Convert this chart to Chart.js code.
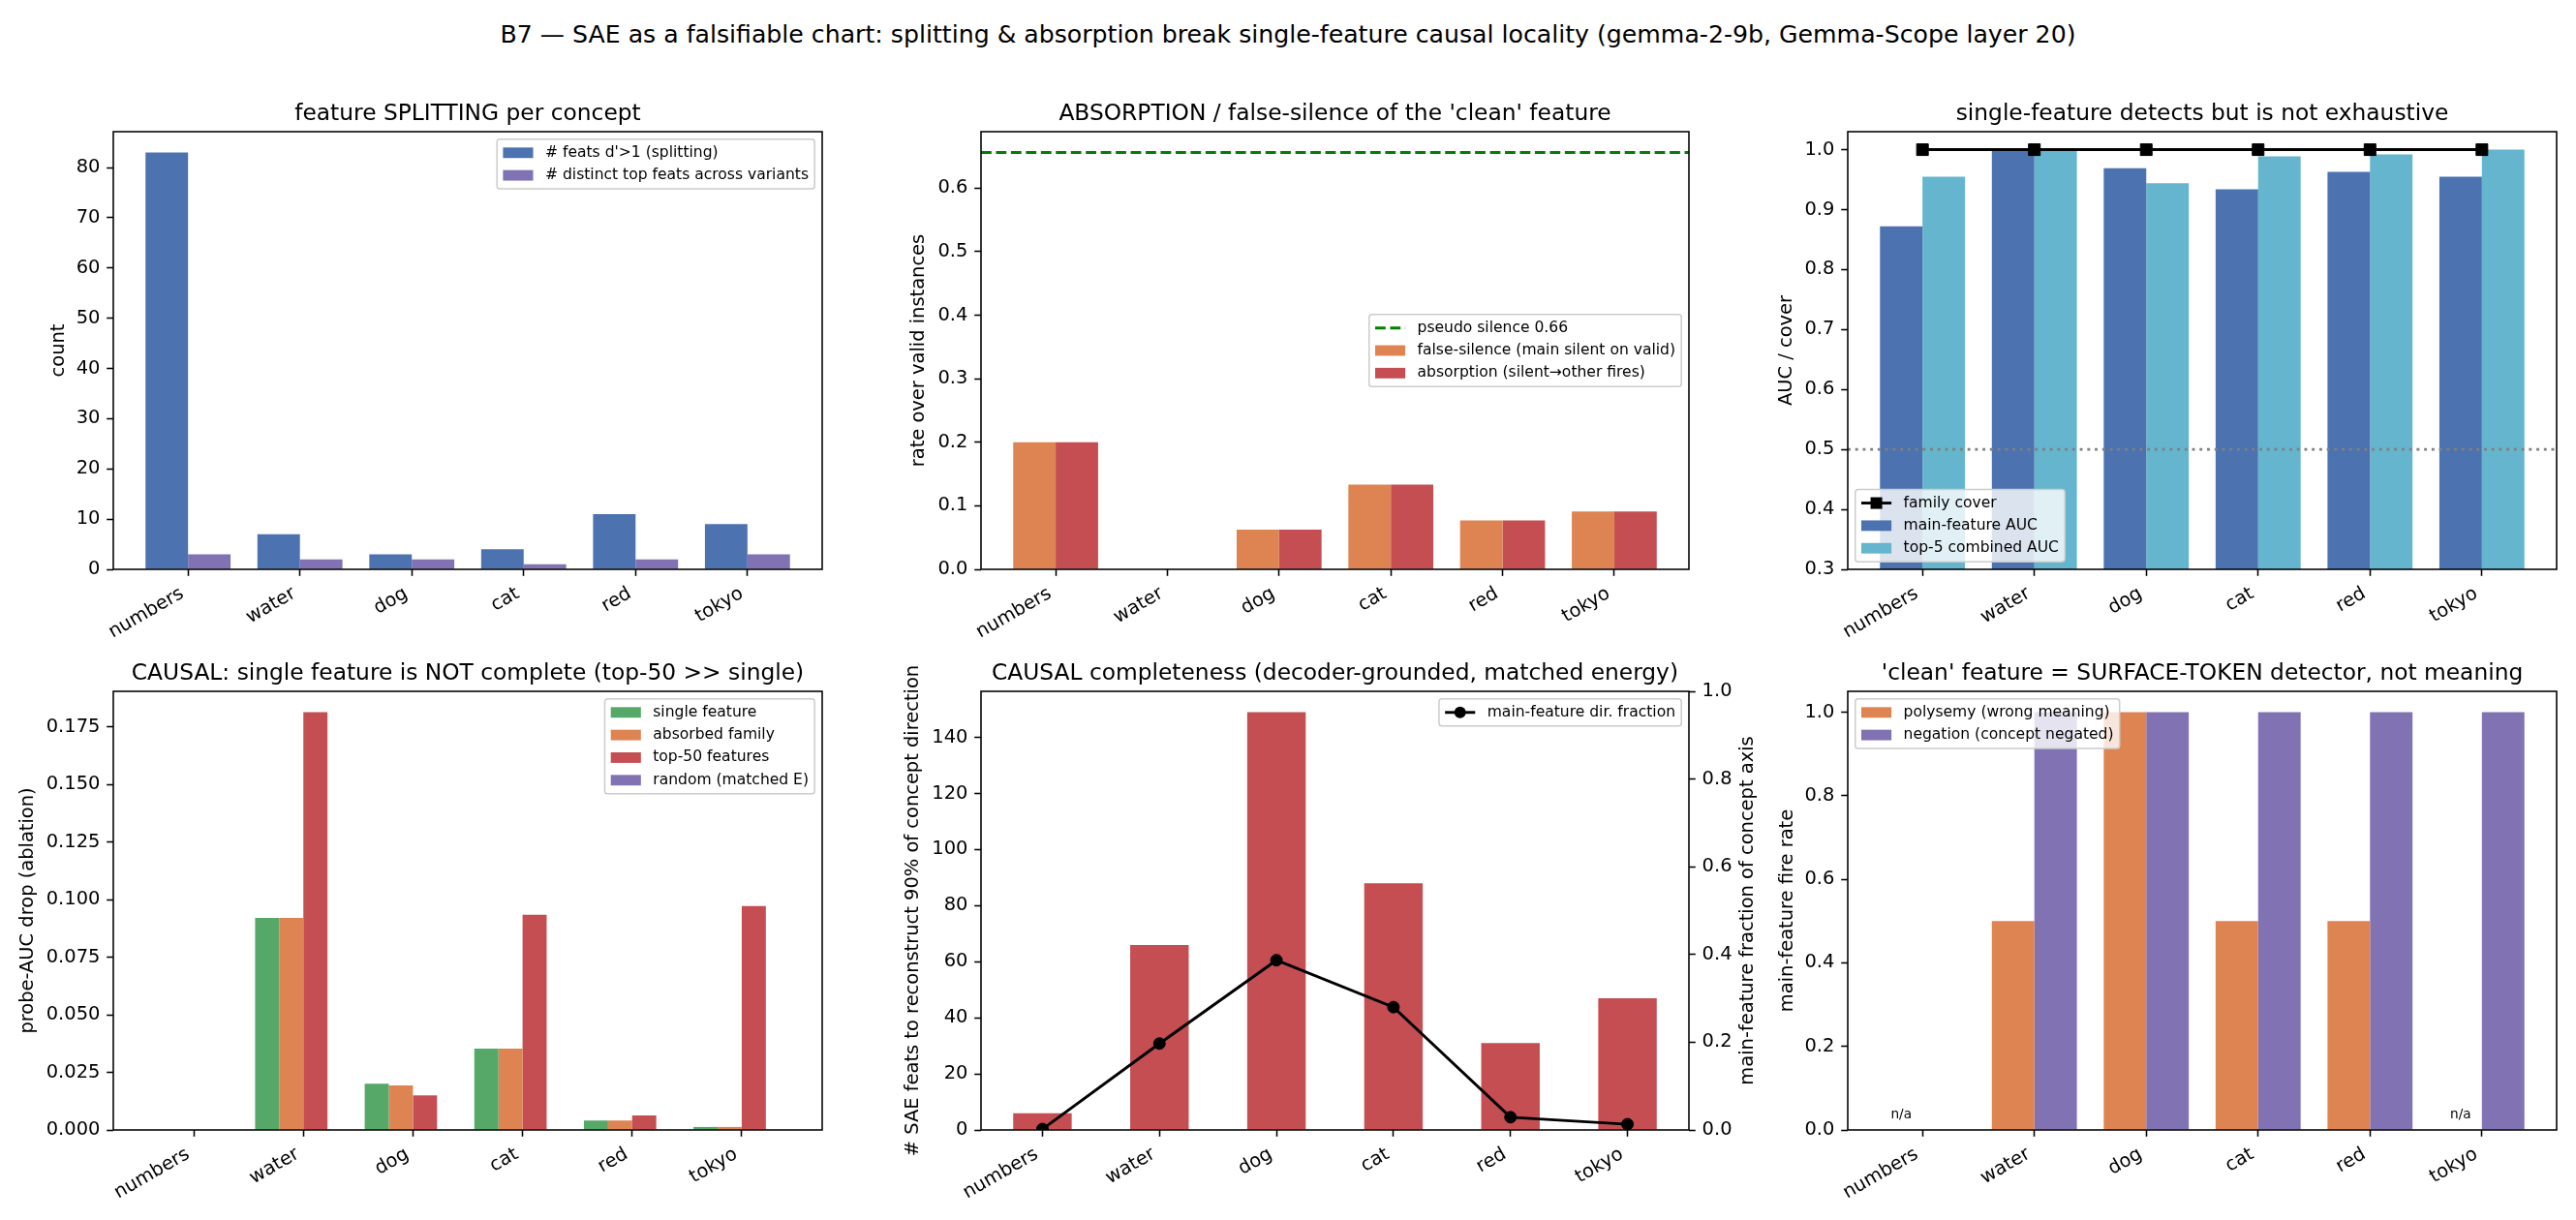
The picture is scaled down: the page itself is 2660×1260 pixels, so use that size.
<!DOCTYPE html>
<html>
<head>
<meta charset="utf-8">
<script src="https://cdn.jsdelivr.net/npm/chart.js@4.4.1/dist/chart.umd.min.js"></script>
<style>
html, body { margin: 0; padding: 0; background: #fff; }
#fig { position: relative; width: 2660px; height: 1260px; overflow: hidden; }
#fig canvas { position: absolute; }
#sup { position: absolute; left: 0; top: 21px; width: 2660px; text-align: center;
       font-family: 'DejaVu Sans', sans-serif; font-size: 25.2px; line-height: normal; color: #000; }
</style>
</head>
<body>
<div id="fig">
  <div id="sup">B7 — SAE as a falsifiable chart: splitting &amp; absorption break single-feature causal locality (gemma-2-9b, Gemma-Scope layer 20)</div>
</div>
<script>
/////////////////////////////////////////////////////////////
//data
/////////////////////////////////////////////////////////////
const CONCEPTS = ['numbers', 'water', 'dog', 'cat', 'red', 'tokyo']

// feature SPLITTING
const SPLIT_FEATS = [83, 7, 3, 4, 11, 9]
const DISTINCT_TOP = [3, 2, 2, 1, 2, 3]
const P1_YTICKS = [0, 10, 20, 30, 40, 50, 60, 70, 80]

// ABSORPTION / false-silence
const FALSE_SILENCE = [0.2, 0, 0.0625, 0.1333, 0.0769, 0.0909]
const ABSORPTION = [0.2, 0, 0.0625, 0.1333, 0.0769, 0.0909]
const PSEUDO_SILENCE = 0.656
const P2_YTICKS = [0, 0.1, 0.2, 0.3, 0.4, 0.5, 0.6]

// detects but not exhaustive
const MAIN_AUC = [0.872, 0.998, 0.969, 0.934, 0.963, 0.955]
const TOP5_AUC = [0.955, 0.998, 0.944, 0.989, 0.992, 1.0]
const FAMILY_COVER = [1, 1, 1, 1, 1, 1]
const CHANCE = 0.5
const P3_YTICKS = [0.3, 0.4, 0.5, 0.6, 0.7, 0.8, 0.9, 1.0]

// CAUSAL ablation
const DROP_SINGLE = [0, 0.092, 0.0201, 0.0353, 0.0041, 0.0013]
const DROP_FAMILY = [0, 0.092, 0.0193, 0.0353, 0.0041, 0.0013]
const DROP_TOP50 = [0, 0.1813, 0.0150, 0.0934, 0.0063, 0.0972]
const DROP_RANDOM = [0, 0, 0, 0, 0, 0]
const P4_YTICKS = [0, 0.025, 0.05, 0.075, 0.1, 0.125, 0.15, 0.175]

// CAUSAL completeness
const FEATS_90 = [6, 66, 149, 88, 31, 47]
const MAIN_DIR_FRAC = [0.002, 0.197, 0.387, 0.280, 0.029, 0.013]
const P5_YTICKS = [0, 20, 40, 60, 80, 100, 120, 140]
const P5_Y1TICKS = [0, 0.2, 0.4, 0.6, 0.8, 1.0]

// SURFACE-TOKEN detector
const POLYSEMY = [null, 0.5, 1.0, 0.5, 0.5, null]
const NEGATION = [0, 1, 1, 1, 1, 1]
const P6_YTICKS = [0, 0.2, 0.4, 0.6, 0.8, 1.0]

/////////////////////////////////////////////////////////////
//style
/////////////////////////////////////////////////////////////
const PX = 140 / 72          // one point in pixels (figure is 140 dpi)
const FS = 10 * PX, TITLE_FS = 12 * PX, LEG_FS = 8 * PX, NOTE_FS = 7 * PX
const FONT = "'DejaVu Sans', sans-serif"
const C = {blue: '#4C72B0', orange: '#DD8452', green: '#55A868', red: '#C44E52', purple: '#8172B3', cyan: '#64B5CD'}
const DASHED = [3.7 * 1.5 * PX, 1.6 * 1.5 * PX]
const DOTTED = [1.5 * PX, 1.65 * 1.5 * PX]

// plot boxes of the 3x2 grid
const COL = [[117, 849], [1013, 1744], [1908, 2640]]
const ROW = [[136, 588], [714, 1167]]

Chart.defaults.font.family = FONT
Chart.defaults.font.size = FS
Chart.defaults.color = '#000'

/////////////////////////////////////////////////////////////
//plugins: matplotlib-like frame, ref lines, notes and legend
/////////////////////////////////////////////////////////////
const decor = {
    id: 'decor',
    afterDatasetsDraw(chart, args, opts) {
        const {ctx, chartArea: a, scales} = chart
        ctx.save()
        ;(opts.hlines || []).forEach(h => {
            const y = scales.y.getPixelForValue(h.y)
            ctx.beginPath()
            ctx.setLineDash(h.dash || [])
            ctx.strokeStyle = h.color
            ctx.lineWidth = h.width
            ctx.moveTo(a.left, y)
            ctx.lineTo(a.right, y)
            ctx.stroke()
        })
        ctx.setLineDash([])
        ;(opts.notes || []).forEach(n => {
            ctx.font = NOTE_FS + 'px ' + FONT
            ctx.fillStyle = '#000'
            ctx.textAlign = 'center'
            ctx.textBaseline = 'bottom'
            ctx.fillText(n.text, scales.x.getPixelForValue(n.x), scales.y.getPixelForValue(n.y))
        })
        ctx.strokeStyle = '#000'
        ctx.lineWidth = 0.8 * PX
        ctx.strokeRect(a.left, a.top, a.width, a.height)
        if (opts.rightTitle) {
            ctx.translate(a.right + opts.rightTitle.dx, (a.top + a.bottom) / 2)
            ctx.rotate(-Math.PI / 2)
            ctx.font = FS + 'px ' + FONT
            ctx.fillStyle = '#000'
            ctx.textAlign = 'center'
            ctx.textBaseline = 'middle'
            ctx.fillText(opts.rightTitle.text, 0, 0)
        }
        ctx.restore()
    }
}

const mplLegend = {
    id: 'mplLegend',
    afterDraw(chart, args, opts) {
        if (!opts.loc) return
        const {ctx, chartArea: a} = chart
        const f = LEG_FS
        const ds = chart.data.datasets.filter(d => !d.noLegend)
        // matplotlib puts lines before patches
        const items = [...(opts.extra || []), ...ds.filter(d => d.type === 'line'), ...ds.filter(d => d.type !== 'line')]
        ctx.save()
        ctx.font = f + 'px ' + FONT
        const tw = Math.max(...items.map(it => ctx.measureText(it.label).width))
        const pad = 0.4 * f, hl = 2 * f, gap = 0.8 * f, rowH = f, sp = 0.5 * f, ax = 0.5 * f
        const w = 2 * pad + hl + gap + tw
        const h = 2 * pad + items.length * rowH + (items.length - 1) * sp
        const x = opts.loc.includes('left') ? a.left + ax : a.right - ax - w
        const y = opts.loc.startsWith('upper') ? a.top + ax
            : opts.loc.startsWith('lower') ? a.bottom - ax - h : (a.top + a.bottom) / 2 - h / 2
        ctx.beginPath()
        ctx.roundRect(x, y, w, h, 0.2 * f)
        ctx.fillStyle = 'rgba(255,255,255,0.8)'
        ctx.fill()
        ctx.strokeStyle = '#cccccc'
        ctx.lineWidth = 1.5
        ctx.stroke()
        items.forEach((it, i) => {
            const cy = y + pad + i * (rowH + sp) + rowH / 2
            const hx = x + pad
            if (it.type === 'line') {
                ctx.beginPath()
                ctx.setLineDash(it.borderDash || [])
                ctx.strokeStyle = it.borderColor
                ctx.lineWidth = it.borderWidth
                ctx.moveTo(hx, cy)
                ctx.lineTo(hx + hl, cy)
                ctx.stroke()
                ctx.setLineDash([])
                ctx.fillStyle = it.borderColor
                if (it.pointStyle === 'rect') {
                    const s = it.pointRadius * Math.SQRT1_2
                    ctx.fillRect(hx + hl / 2 - s, cy - s, 2 * s, 2 * s)
                } else if (it.pointRadius) {
                    ctx.beginPath()
                    ctx.arc(hx + hl / 2, cy, it.pointRadius, 0, 2 * Math.PI)
                    ctx.fill()
                }
            } else {
                ctx.fillStyle = it.backgroundColor
                ctx.fillRect(hx, cy - 0.35 * f, hl, 0.7 * f)
            }
            ctx.fillStyle = '#000'
            ctx.textAlign = 'left'
            ctx.textBaseline = 'middle'
            ctx.fillText(it.label, hx + hl + gap, cy)
        })
        ctx.restore()
    }
}

/////////////////////////////////////////////////////////////
//helpers
/////////////////////////////////////////////////////////////
const bars = (label, vals, color, extra) => Object.assign({
    type: 'bar', label,
    data: vals.map((v, i) => ({x: i, y: v})),
    backgroundColor: color, borderWidth: 0, order: 2, clip: 0
}, extra)

const line = (label, vals, axis, style, radius) => ({
    type: 'line', label, yAxisID: axis,
    data: vals.map((v, i) => ({x: i, y: v})),
    borderColor: '#000', borderWidth: 1.5 * PX,
    pointStyle: style, pointRadius: radius, pointBorderWidth: 1,
    pointBackgroundColor: '#000', pointBorderColor: '#000', order: 1, clip: 0
})

// matplotlib x limits: bar extent plus 5% margin
const xlim = group => {
    const lo = -group / 2, hi = CONCEPTS.length - 1 + group / 2
    return [lo - 0.05 * (hi - lo), hi + 0.05 * (hi - lo)]
}
// matplotlib y top: data max plus 5% margin
const autoMax = vals => Math.max(...vals) * 1.05

const tickGrid = {display: true, drawOnChartArea: false, offset: false, tickLength: 3.5 * PX, tickWidth: 0.8 * PX, tickColor: '#000'}

function xScale(group, height) {
    const [lo, hi] = xlim(group)
    return {
        type: 'linear', min: lo, max: hi, offset: false,
        grid: tickGrid, border: {display: false},
        afterBuildTicks: s => { s.ticks = CONCEPTS.map((c, i) => ({value: i})) },
        afterFit: s => { s.height = height },
        //rotated labels end at the tick like matplotlib ha='right'
        ticks: {autoSkip: false, minRotation: 30, maxRotation: 30, padding: 3.5 * PX, labelOffset: -0.3 * FS,
            callback: v => CONCEPTS[v]}
    }
}

function yScale(lo, hi, ticks, dec, width, title, extra) {
    return Object.assign({
        type: 'linear', min: lo, max: hi,
        grid: tickGrid, border: {display: false},
        afterBuildTicks: s => { s.ticks = ticks.map(v => ({value: v})) },
        afterFit: s => { s.width = width },
        ticks: {padding: 3.5 * PX, callback: v => v.toFixed(dec)},
        title: {display: !!title, text: title, padding: {top: 0, bottom: 0}, font: {size: FS}}
    }, extra)
}

function makePanel(o) {
    const [pl, pr] = COL[o.col], [pt, pb] = ROW[o.row]
    const cLeft = Math.round(o.ylabelX - FS * 0.6), cTop = pt - 60
    const cBottom = o.row ? 1260 : 680
    const cv = document.createElement('canvas')
    cv.width = o.right - cLeft
    cv.height = cBottom - cTop
    cv.style.left = cLeft + 'px'
    cv.style.top = cTop + 'px'
    document.getElementById('fig').appendChild(cv)

    const scales = {
        x: xScale(o.group, cBottom - pb),
        y: yScale(o.ylim[0], o.ylim[1], o.yticks, o.dec, pl - cLeft, o.ylabel)
    }
    let y1w = 0
    if (o.y1) {
        y1w = o.right - pr
        scales.y1 = yScale(o.y1.lim[0], o.y1.lim[1], o.y1.ticks, o.y1.dec, y1w, '', {position: 'right'})
    }
    return new Chart(cv, {
        type: 'bar',
        data: {datasets: o.datasets},
        options: {
            responsive: false, animation: false, devicePixelRatio: 1, events: [],
            layout: {padding: {left: 0, top: 0, bottom: 0, right: o.right - pr - y1w}},
            datasets: {bar: {categoryPercentage: o.group, barPercentage: 1}},
            plugins: {
                legend: {display: false},
                tooltip: {enabled: false},
                title: {display: true, text: o.title, fullSize: false, color: '#000',
                    font: {size: TITLE_FS, weight: 'normal'}, padding: {top: 27.5, bottom: 4.5}},
                mplLegend: o.legend || {},
                decor: o.decor || {}
            },
            scales
        },
        plugins: [decor, mplLegend]
    })
}

/////////////////////////////////////////////////////////////
//panels
/////////////////////////////////////////////////////////////
makePanel({
    col: 0, row: 0, ylabelX: 61, right: 880, group: 0.76,
    title: 'feature SPLITTING per concept', ylabel: 'count',
    ylim: [0, autoMax(SPLIT_FEATS.concat(DISTINCT_TOP))], yticks: P1_YTICKS, dec: 0,
    datasets: [
        bars("# feats d'>1 (splitting)", SPLIT_FEATS, C.blue),
        bars('# distinct top feats across variants', DISTINCT_TOP, C.purple)
    ],
    legend: {loc: 'upper right'}
})

makePanel({
    col: 1, row: 0, ylabelX: 949, right: 1775, group: 0.76,
    title: "ABSORPTION / false-silence of the 'clean' feature", ylabel: 'rate over valid instances',
    ylim: [0, autoMax(FALSE_SILENCE.concat(ABSORPTION, [PSEUDO_SILENCE]))], yticks: P2_YTICKS, dec: 1,
    datasets: [
        bars('false-silence (main silent on valid)', FALSE_SILENCE, C.orange),
        bars('absorption (silent\u2192other fires)', ABSORPTION, C.red)
    ],
    legend: {loc: 'center right', extra: [{type: 'line', label: 'pseudo silence ' + PSEUDO_SILENCE.toFixed(2),
        borderColor: '#008000', borderWidth: 1.5 * PX, borderDash: DASHED}]},
    decor: {hlines: [{y: PSEUDO_SILENCE, color: '#008000', width: 1.5 * PX, dash: DASHED}]}
})

makePanel({
    col: 2, row: 0, ylabelX: 1845, right: 2660, group: 0.76,
    title: 'single-feature detects but is not exhaustive', ylabel: 'AUC / cover',
    ylim: [0.3, 1.03], yticks: P3_YTICKS, dec: 1,
    datasets: [
        line('family cover', FAMILY_COVER, 'y', 'rect', 8.5),
        bars('main-feature AUC', MAIN_AUC, C.blue),
        bars('top-5 combined AUC', TOP5_AUC, C.cyan)
    ],
    legend: {loc: 'lower left'},
    decor: {hlines: [{y: CHANCE, color: '#808080', width: 1.5 * PX, dash: DOTTED}]}
})

makePanel({
    col: 0, row: 1, ylabelX: 29, right: 880, group: 0.88,
    title: 'CAUSAL: single feature is NOT complete (top-50 >> single)', ylabel: 'probe-AUC drop (ablation)',
    ylim: [0, autoMax(DROP_SINGLE.concat(DROP_FAMILY, DROP_TOP50, DROP_RANDOM))], yticks: P4_YTICKS, dec: 3,
    datasets: [
        bars('single feature', DROP_SINGLE, C.green),
        bars('absorbed family', DROP_FAMILY, C.orange),
        bars('top-50 features', DROP_TOP50, C.red),
        bars('random (matched E)', DROP_RANDOM, C.purple)
    ],
    legend: {loc: 'upper right'}
})

makePanel({
    col: 1, row: 1, ylabelX: 943, right: 1830, group: 0.5,
    title: 'CAUSAL completeness (decoder-grounded, matched energy)',
    ylabel: '# SAE feats to reconstruct 90% of concept direction',
    ylim: [0, autoMax(FEATS_90)], yticks: P5_YTICKS, dec: 0,
    y1: {lim: [0, 1], ticks: P5_Y1TICKS, dec: 1},
    datasets: [
        line('main-feature dir. fraction', MAIN_DIR_FRAC, 'y1', 'circle', 6),
        bars('# SAE feats', FEATS_90, C.red, {noLegend: true})
    ],
    legend: {loc: 'upper right'},
    decor: {rightTitle: {text: 'main-feature fraction of concept axis', dx: 61}}
})

makePanel({
    col: 2, row: 1, ylabelX: 1846, right: 2660, group: 0.76,
    title: "'clean' feature = SURFACE-TOKEN detector, not meaning", ylabel: 'main-feature fire rate',
    ylim: [0, 1.05], yticks: P6_YTICKS, dec: 1,
    datasets: [
        bars('polysemy (wrong meaning)', POLYSEMY, C.orange),
        bars('negation (concept negated)', NEGATION, C.purple)
    ],
    legend: {loc: 'upper left'},
    decor: {notes: POLYSEMY.map((v, i) => v === null ? {x: i - 0.19, y: 0.02, text: 'n/a'} : null).filter(Boolean)}
})
</script>
</body>
</html>
